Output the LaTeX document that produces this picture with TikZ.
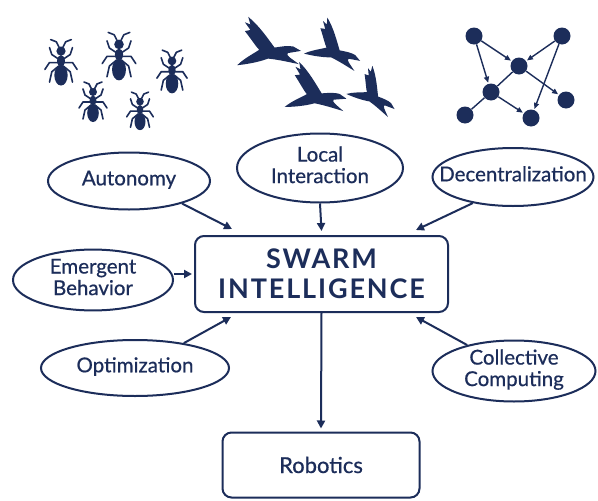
\documentclass[tikz,border=0pt]{standalone}
\usepackage{fontspec}
\setmainfont{Lato}[FakeBold=0.6]
\newfontfamily\titlefont[LetterSpace=7]{Lato}
\usetikzlibrary{arrows.meta,shapes.geometric,calc}
\definecolor{navy}{RGB}{28,45,90}
% centred label that does not widen its ellipse
\newcommand{\lbl}[1]{\makebox[0pt][c]{\begin{tabular}{@{}c@{}}#1\end{tabular}}}

\begin{document}
\begin{tikzpicture}[x=1pt,y=-1pt,
  every node/.style={text=navy},
  concept/.style={draw=navy, line width=2pt, ellipse, inner sep=0pt,
    font=\fontsize{20.5}{21.5}\selectfont},
  roundbox/.style={draw=navy, line width=2pt, rounded corners=9pt, inner sep=0pt},
  link/.style={draw=navy, line width=2pt, -{Triangle[length=8pt,width=8pt]}},
  netlink/.style={draw=navy, line width=1.4pt, -{Triangle[length=6pt,width=5pt]}, shorten >=1pt},
  netnode/.style={circle, fill=navy, inner sep=0pt, minimum size=17pt},
  ant/.pic={
    \fill[navy] (0,-13) circle (4);
    \fill[navy] (0,-4.5) ellipse (3.4 and 5);
    \fill[navy] (0,8) ellipse (5.8 and 9);
    \foreach \s in {1,-1}{
      \draw[navy, line width=1.6pt, line cap=round, line join=round]
        (\s*1.5,-16) -- (\s*4,-21) -- (\s*9,-23)
        (\s*2,-6) -- (\s*8,-10) -- (\s*10,-16)
        (\s*2,-3) -- (\s*10,-3) -- (\s*14,3)
        (\s*2,0) -- (\s*8,5) -- (\s*10,14);
    }
  },
  bird/.pic={
    \fill[navy] (30,-1) -- (23,-5) .. controls (18,-6) and (12,-5) .. (6,-4)
      .. controls (0,-12) and (-8,-24) .. (-18,-32)
      -- (-16,-25) -- (-21,-27) -- (-16,-20) -- (-21,-19)
      .. controls (-14,-10) and (-11,-5) .. (-8,-2)
      .. controls (-14,2) and (-22,6) .. (-28,12)
      .. controls (-18,11) and (-8,9) .. (0,6)
      .. controls (10,7) and (18,9) .. (28,11)
      .. controls (20,5) and (16,3) .. (18,1) -- (24,0) -- cycle;
  }]
\useasboundingbox[fill=white] (0,0) rectangle (598,501);

% ants
\pic[scale=1.15] at (61,66) {ant};
\pic[scale=1.2] at (119,60) {ant};
\pic[scale=1.08] at (172,75) {ant};
\pic[scale=1.0] at (93,105) {ant};
\pic[scale=0.95] at (140,114) {ant};

% birds
\pic[scale=1.1] at (268,52) {bird};
\pic[scale=0.95, rotate=-20] at (333,52) {bird};
\pic[scale=1.05, rotate=-5] at (315,97) {bird};
\pic[scale=0.85, rotate=-30] at (372,97) {bird};

% small network
\node[netnode] (na) at (474,36) {};
\node[netnode] (nb) at (562,36) {};
\node[netnode] (nc) at (519,66) {};
\node[netnode] (nd) at (491,92) {};
\node[netnode] (ne) at (566,100) {};
\node[netnode] (nf) at (465,115) {};
\node[netnode] (ng) at (531,118) {};
\draw[netlink] (na) -- (nc);
\draw[netlink] (na) -- (nd);
\draw[netlink] (nb) -- (nc);
\draw[netlink] (nb) -- (ng);
\draw[netlink] (nc) -- (ne);
\draw[netlink] (nd) -- (ng);
\draw[navy, line width=1.4pt] (nd) -- (nc);
\draw[navy, line width=1.4pt] (nd) -- (nf);

% central concept
\node[roundbox, minimum width=253pt, minimum height=76pt,
  font=\titlefont\bfseries\fontsize{27}{30}\selectfont, align=center]
  (core) at (321.5,274) {SWARM\\INTELLIGENCE};

% surrounding properties
\node[concept, minimum width=162pt, minimum height=57pt] (auto) at (129,181) {\lbl{Autonomy}};
\node[concept, minimum width=166pt, minimum height=69pt] (local) at (320,168) {\lbl{Local\\Interaction}};
\node[concept, minimum width=161pt, minimum height=58pt] (deco) at (513,177) {\lbl{Decentralization}};
\node[concept, minimum width=160pt, minimum height=58pt] (emerg) at (93,280) {\lbl{Emergent\\Behavior}};
\node[concept, minimum width=188pt, minimum height=56pt] (optim) at (135,368) {\lbl{Optimization}};
\node[concept, minimum width=163pt, minimum height=61pt] (coll) at (514,371) {\lbl{Collective\\Computing}};

% application
\node[roundbox, minimum width=197pt, minimum height=65pt,
  font=\fontsize{22}{24}\selectfont] (robo) at (321,465) {Robotics};

% connectors
\draw[link] (auto.337) -- ($(core.north west)+(38,-6)$);
\draw[link] (local.south) -- ($(core.north)+(0,-4)$);
\draw[link] (deco.213) -- ($(core.north east)+(-33,-5)$);
\draw[link] (emerg.east |- core.west) -- ($(core.west)+(-2,0)$);
\draw[link] (optim.27) -- ($(core.south west)+(37,4)$);
\draw[link] (coll.151) -- ($(core.south east)+(-33,4)$);
\draw[link] (core.south) -- ($(robo.north)+(0,-3)$);
\end{tikzpicture}
\end{document}
